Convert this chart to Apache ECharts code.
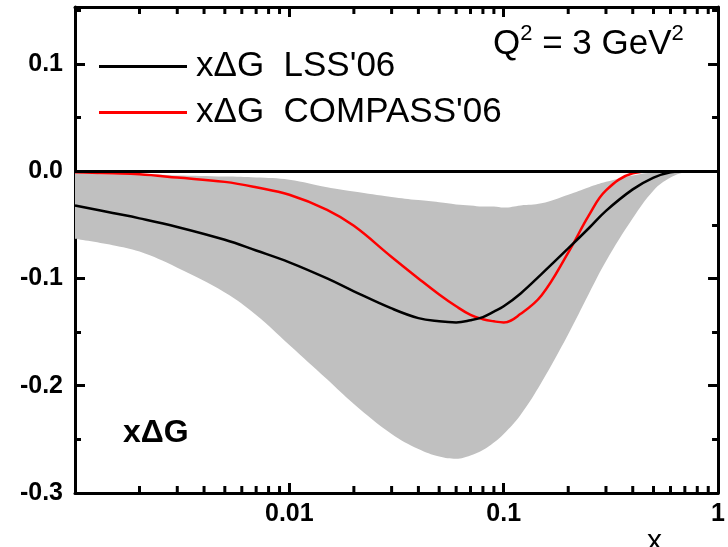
<!DOCTYPE html>
<html>
<head>
<meta charset="utf-8">
<script src="https://cdn.jsdelivr.net/npm/echarts@6/dist/echarts.min.js"></script>
<style>
  html, body { margin: 0; padding: 0; background: #fff; }
  #main { width: 728px; height: 547px; }
</style>
</head>
<body>
<div id="main"></div>
<script>
// x grid (log scale)
const xs = [0.001, 0.0015, 0.002, 0.003, 0.005, 0.007, 0.01, 0.015, 0.02, 0.03, 0.04, 0.05, 0.06, 0.07,
  0.08, 0.09, 0.1, 0.12, 0.15, 0.2, 0.25, 0.3, 0.4, 0.5, 0.6, 0.7, 0.8, 1];

// xΔG LSS'06 (black)
const lss = [-0.032, -0.039, -0.044, -0.052, -0.064, -0.074, -0.085, -0.100, -0.112, -0.128, -0.137, -0.140,
  -0.141, -0.139, -0.136, -0.131, -0.126, -0.114, -0.096, -0.072, -0.053, -0.037, -0.017, -0.006, -0.001, 0, 0, 0];

// xΔG COMPASS'06 (red)
const compass = [-0.001, -0.002, -0.003, -0.006, -0.010, -0.015, -0.022, -0.036, -0.051, -0.080, -0.100, -0.115,
  -0.126, -0.134, -0.138, -0.140, -0.141, -0.133, -0.116, -0.076, -0.041, -0.018, -0.002, 0, 0, 0, 0, 0];

// error band
const bandUpper = [-0.002, -0.003, -0.003, -0.004, -0.005, -0.006, -0.008, -0.015, -0.019, -0.024, -0.027, -0.029,
  -0.031, -0.032, -0.033, -0.033, -0.034, -0.032, -0.030, -0.022, -0.015, -0.010, -0.004, -0.001, 0, 0, 0, 0];
const bandLower = [-0.063, -0.069, -0.075, -0.090, -0.113, -0.134, -0.162, -0.194, -0.217, -0.245, -0.259, -0.266,
  -0.268, -0.265, -0.260, -0.253, -0.245, -0.227, -0.197, -0.152, -0.114, -0.084, -0.044, -0.018, -0.006, -0.001, 0, 0];

const xLabels = ['0.01', '0.1', '1'];
const xMinorTicks = [];
[0.001, 0.01, 0.1].forEach(d => { for (let k = 2; k <= 9; k++) xMinorTicks.push(+(d * k).toPrecision(3)); });
const yMin = -0.3, yMax = 0.153;
const names = ["x\u0394G  LSS'06", "x\u0394G  COMPASS'06"];

const chart = echarts.init(document.getElementById('main'));

const lineStyleAxis = { color: '#000', width: 3 };
const tickStyle = { color: '#000', width: 3 };
const labelFont = { fontFamily: 'Liberation Sans', fontWeight: 'bold', fontSize: 25, color: '#000' };

function xAxisCfg(pos, showLabel) {
  return {
    type: 'log', logBase: 10, min: 0.001, max: 1, position: pos,
    axisLine: { show: true, onZero: false, lineStyle: lineStyleAxis },
    axisTick: { show: true, inside: true, length: 10, lineStyle: tickStyle },
    splitLine: { show: false },
    axisLabel: Object.assign({
      show: showLabel, margin: 9, showMinLabel: false,
      formatter: function (v) {
        const s = String(+v.toPrecision(3));
        return xLabels.indexOf(s) >= 0 ? s : '';
      }
    }, labelFont)
  };
}

function yAxisCfg(pos, showLabel) {
  return {
    type: 'value', min: yMin, max: yMax, interval: 0.1, position: pos,
    axisLine: { show: true, onZero: false, lineStyle: lineStyleAxis },
    axisTick: { show: true, inside: true, length: 10, lineStyle: tickStyle },
    minorTick: { show: true, splitNumber: 2, length: 6, lineStyle: tickStyle },
    splitLine: { show: false },
    axisLabel: Object.assign({
      show: showLabel, margin: 12, showMaxLabel: false,
      formatter: function (v) { return v.toFixed(1); }
    }, labelFont)
  };
}

// minor ticks of the log axis (2..9 in each decade) on the bottom and top frame
const minorTickSeries = {
  type: 'custom', silent: true, z: 6, clip: false,
  data: xMinorTicks.map(v => [v, yMin]),
  encode: { x: 0, y: 1 },
  renderItem: function (params, api) {
    const v = api.value(0);
    const b = api.coord([v, yMin]);
    const t = api.coord([v, yMax]);
    return {
      type: 'group',
      children: [
        { type: 'rect', shape: { x: b[0] - 1.5, y: b[1] - 7, width: 3, height: 7 }, style: { fill: '#000' } },
        { type: 'rect', shape: { x: t[0] - 1.5, y: t[1], width: 3, height: 7 }, style: { fill: '#000' } }
      ]
    };
  }
};

const smooth = 0.4;

const option = {
  animation: false,
  backgroundColor: '#fff',
  grid: { left: 75, right: 8, top: 7, bottom: 54, containLabel: false },
  xAxis: [xAxisCfg('bottom', true), xAxisCfg('top', false)],
  yAxis: [yAxisCfg('left', true), yAxisCfg('right', false)],
  legend: {
    data: names, orient: 'vertical', left: 99, top: 49, padding: 0,
    itemWidth: 88, itemHeight: 3, itemGap: 11, icon: 'rect', selectedMode: false,
    textStyle: { fontFamily: 'Liberation Sans', fontSize: 35, color: '#000', padding: [0, 0, 0, 4] }
  },
  graphic: [
    {
      type: 'text', left: 493, top: 23, z: 10,
      style: {
        text: '{a|Q}{s|2}{a| = 3 GeV}{s|2}',
        rich: {
          a: { fontFamily: 'Liberation Sans', fontSize: 35, fill: '#000', lineHeight: 39, verticalAlign: 'bottom' },
          s: { fontFamily: 'Liberation Sans', fontSize: 22, fill: '#000', lineHeight: 39, verticalAlign: 'top' }
        }
      }
    },
    {
      type: 'text', left: 123, top: 417, z: 10,
      style: { text: 'x\u0394G', fontFamily: 'Liberation Sans', fontWeight: 'bold', fontSize: 32, fill: '#000' }
    },
    {
      type: 'text', left: 647, top: 527, z: 10,
      style: { text: 'x', fontFamily: 'Liberation Sans', fontSize: 30, fill: '#000' }
    }
  ],
  series: [
    // band: grey from 0 down to the lower edge, then white from 0 down to the upper edge
    {
      name: 'bandLow', type: 'line',
      data: xs.map((x, i) => [x, bandLower[i]]),
      symbol: 'none', smooth: smooth, silent: true,
      lineStyle: { opacity: 0 }, areaStyle: { color: '#c0c0c0', opacity: 1, origin: 0 }, z: 1
    },
    {
      name: 'bandUp', type: 'line',
      data: xs.map((x, i) => [x, bandUpper[i]]),
      symbol: 'none', smooth: smooth, silent: true,
      lineStyle: { opacity: 0 }, areaStyle: { color: '#fff', opacity: 1, origin: 0 }, z: 1
    },
    {
      name: names[0], type: 'line', color: '#000',
      data: xs.map((x, i) => [x, lss[i]]),
      symbol: 'none', smooth: smooth,
      lineStyle: { color: '#000', width: 2.5 }, z: 3,
      markLine: {
        silent: true, symbol: ['none', 'none'], label: { show: false },
        lineStyle: { color: '#000', width: 3, type: 'solid' },
        data: [{ yAxis: 0 }]
      }
    },
    {
      name: names[1], type: 'line', color: '#ff0000',
      data: xs.map((x, i) => [x, compass[i]]),
      symbol: 'none', smooth: smooth,
      lineStyle: { color: '#ff0000', width: 2.5 }, z: 2
    },
    minorTickSeries
  ]
};

chart.setOption(option);
</script>
</body>
</html>
